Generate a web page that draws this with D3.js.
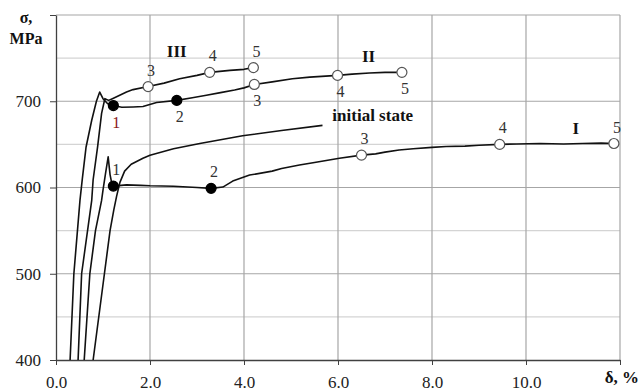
<!DOCTYPE html>
<html>
<head>
<meta charset="utf-8">
<script src="https://cdn.jsdelivr.net/npm/d3@7"></script>
<style>
  body { margin: 0; background: #fff; }
  svg text { font-family: "Liberation Serif", "Times New Roman", serif; }
  .axis path, .axis line { stroke: #404040; }
  .axis text { fill: #222; font-size: 17px; }
</style>
</head>
<body>
<div id="chart"></div>
<script>
// Stress-strain curves, sigma (MPa) vs delta (%)
// each curve: [delta, sigma] pairs

const curveI = [
  [0.60, 400], [0.72, 500], [0.84, 550], [0.97, 585], [1.00, 597], [1.05, 615], [1.11, 635.5],
  [1.15, 615], [1.19, 604], [1.22, 601.6], [1.5, 603], [1.8, 602.5], [2.0, 602], [2.5, 601.5],
  [3.0, 600], [3.30, 599], [3.55, 600.5], [3.76, 607.4], [4.12, 614.4], [4.6, 619], [4.8, 622],
  [5.18, 626], [5.5, 629], [6.03, 634], [6.5, 637.5], [6.8, 639], [7.0, 641], [7.3, 643.5],
  [7.6, 645], [8.0, 646.5], [8.3, 647.5], [8.7, 648], [9.0, 649], [9.44, 650], [9.8, 650.5],
  [10.3, 651], [10.8, 650.5], [11.2, 651], [11.6, 651.5], [11.87, 651]
];

const curveII = [
  [0.30, 400], [0.38, 500], [0.51, 585], [0.56, 610], [0.64, 647], [0.76, 678], [0.86, 700],
  [0.93, 710.7], [1.00, 703], [1.10, 697], [1.22, 695], [1.4, 693], [1.64, 693.4], [1.85, 694],
  [2.14, 698.5], [2.57, 701], [2.9, 704], [3.2, 707], [3.5, 710], [3.8, 713], [4.0, 715.5],
  [4.22, 719.5], [4.6, 722.5], [5.03, 726], [5.4, 728], [5.99, 730], [6.3, 731.5], [6.67, 732.7],
  [7.0, 733.5], [7.36, 733.5]
];

const curveIII = [
  [0.47, 400], [0.545, 500], [0.76, 585], [0.79, 609], [0.885, 647], [0.97, 686], [1.04, 703],
  [1.12, 701], [1.2, 703], [1.5, 710.7], [1.64, 713.5], [1.96, 717], [2.3, 721], [2.63, 726],
  [3.0, 730], [3.27, 733.5], [3.7, 735.8], [4.0, 737], [4.2, 739]
];

const curveInitial = [
  [0.79, 400], [1.03, 500], [1.15, 550], [1.23, 574], [1.29, 590], [1.36, 606], [1.46, 619],
  [1.6, 627], [1.85, 634], [2.0, 637.5], [2.5, 645], [3.06, 651], [3.97, 660], [4.8, 666],
  [5.67, 672]
];

// numbered points: curve, point number, delta, sigma, filled?, label above/below
const points = [
  { curve: 'III', n: 3, x: 1.96, y: 717, filled: false, pos: 'above' },
  { curve: 'III', n: 4, x: 3.27, y: 733.5, filled: false, pos: 'above' },
  { curve: 'III', n: 5, x: 4.2, y: 739, filled: false, pos: 'above' },
  { curve: 'II', n: 1, x: 1.22, y: 695, filled: true, pos: 'below' },
  { curve: 'II', n: 2, x: 2.57, y: 701, filled: true, pos: 'below' },
  { curve: 'II', n: 3, x: 4.22, y: 719.5, filled: false, pos: 'below' },
  { curve: 'II', n: 4, x: 5.99, y: 730, filled: false, pos: 'below' },
  { curve: 'II', n: 5, x: 7.36, y: 733.5, filled: false, pos: 'below' },
  { curve: 'I', n: 1, x: 1.22, y: 601.6, filled: true, pos: 'above' },
  { curve: 'I', n: 2, x: 3.30, y: 599, filled: true, pos: 'above' },
  { curve: 'I', n: 3, x: 6.5, y: 637.5, filled: false, pos: 'above' },
  { curve: 'I', n: 4, x: 9.44, y: 650, filled: false, pos: 'above' },
  { curve: 'I', n: 5, x: 11.87, y: 651, filled: false, pos: 'above' }
];

// curve names, anchored in data coordinates
const curveNames = [
  { text: 'III', x: 2.57, y: 751, anchor: 'middle' },
  { text: 'II', x: 6.65, y: 745, anchor: 'middle' },
  { text: 'I', x: 11.06, y: 662, anchor: 'middle' },
  { text: 'initial state', x: 5.88, y: 677, anchor: 'start' }
];

const xTicks = [0, 2, 4, 6, 8, 10, 12];
const yTicks = [400, 500, 600, 700, 800];
const yMinor = [450, 550, 650, 750];

const width = 641;
const height = 392;
const margins = { top: 15, right: 21, bottom: 32, left: 56 };

const xScale = d3.scaleLinear()
  .domain([0, 12])
  .range([margins.left, width - margins.right]);

const yScale = d3.scaleLinear()
  .domain([400, 800])
  .range([height - margins.bottom, margins.top]);

const svg = d3.select('#chart')
  .append('svg')
  .attr('width', width)
  .attr('height', height);

// grid
const grid = svg.append('g').attr('class', 'grid');

grid.selectAll('line.minor')
  .data(yMinor)
  .enter()
  .append('line')
  .attr('class', 'minor')
  .attr('x1', xScale(0)).attr('x2', xScale(12))
  .attr('y1', d => yScale(d)).attr('y2', d => yScale(d))
  .attr('stroke', '#d4d4d4')
  .attr('stroke-width', 1.2);

grid.selectAll('line.hmajor')
  .data(yTicks.slice(1))
  .enter()
  .append('line')
  .attr('class', 'hmajor')
  .attr('x1', xScale(0)).attr('x2', xScale(12))
  .attr('y1', d => yScale(d)).attr('y2', d => yScale(d))
  .attr('stroke', '#a6a6a6')
  .attr('stroke-width', 1.2);

grid.selectAll('line.vmajor')
  .data(xTicks.slice(1))
  .enter()
  .append('line')
  .attr('class', 'vmajor')
  .attr('x1', d => xScale(d)).attr('x2', d => xScale(d))
  .attr('y1', yScale(400)).attr('y2', yScale(800))
  .attr('stroke', '#a6a6a6')
  .attr('stroke-width', 1.2);

// axes
const xAxis = d3.axisBottom(xScale)
  .tickValues(xTicks)
  .tickFormat(d => (d === 12 ? '' : d.toFixed(1)))
  .tickSize(5)
  .tickSizeOuter(0)
  .tickPadding(11);

const yAxis = d3.axisLeft(yScale)
  .tickValues(yTicks)
  .tickFormat(d => (d === 800 ? '' : d))
  .tickSize(6)
  .tickSizeOuter(0)
  .tickPadding(9);

svg.append('g')
  .attr('class', 'x axis')
  .attr('transform', `translate(0,${yScale(400)})`)
  .call(xAxis)
  .attr('font-family', null)
  .call(g => g.selectAll('text').attr('dy', '0.71em'));

svg.append('g')
  .attr('class', 'y axis')
  .attr('transform', `translate(${xScale(0)},0)`)
  .call(yAxis)
  .attr('font-family', null);

svg.selectAll('.axis .domain').attr('stroke-width', 1.3);

// axis titles
const titleStyle = t => t
  .attr('font-weight', 'bold')
  .attr('font-size', 16)
  .attr('fill', '#111');

svg.append('text')
  .attr('x', 26).attr('y', 23)
  .attr('text-anchor', 'middle')
  .call(titleStyle)
  .text('σ,');

svg.append('text')
  .attr('x', 26).attr('y', 44)
  .attr('text-anchor', 'middle')
  .call(titleStyle)
  .text('MPa');

svg.append('text')
  .attr('x', 639).attr('y', 383)
  .attr('text-anchor', 'end')
  .call(titleStyle)
  .attr('font-size', 17)
  .text('δ, %');

// curves
const line = d3.line()
  .x(d => xScale(d[0]))
  .y(d => yScale(d[1]));

svg.append('g')
  .attr('class', 'curves')
  .selectAll('path')
  .data([curveI, curveII, curveIII, curveInitial])
  .enter()
  .append('path')
  .attr('d', line)
  .attr('fill', 'none')
  .attr('stroke', '#111')
  .attr('stroke-width', 1.6)
  .attr('stroke-linejoin', 'round');

// markers
svg.append('g')
  .attr('class', 'markers')
  .selectAll('circle')
  .data(points)
  .enter()
  .append('circle')
  .attr('cx', d => xScale(d.x))
  .attr('cy', d => yScale(d.y))
  .attr('r', 5)
  .attr('fill', d => (d.filled ? '#000' : '#fff'))
  .attr('stroke', d => (d.filled ? '#000' : '#555'))
  .attr('stroke-width', 1.2);

// point numbers
svg.append('g')
  .attr('class', 'point-labels')
  .selectAll('text')
  .data(points)
  .enter()
  .append('text')
  .attr('x', d => xScale(d.x) + 3)
  .attr('y', d => yScale(d.y) + (d.pos === 'above' ? -11 : 22))
  .attr('text-anchor', 'middle')
  .attr('font-size', 16)
  .attr('fill', d => (d.curve === 'II' && d.n === 1 ? '#8b1a1a' : '#333'))
  .text(d => d.n);

// curve names
svg.append('g')
  .attr('class', 'curve-names')
  .selectAll('text')
  .data(curveNames)
  .enter()
  .append('text')
  .attr('x', d => xScale(d.x))
  .attr('y', d => yScale(d.y))
  .attr('text-anchor', d => d.anchor)
  .attr('font-weight', 'bold')
  .attr('font-size', 17)
  .attr('fill', '#111')
  .text(d => d.text);
</script>
</body>
</html>
